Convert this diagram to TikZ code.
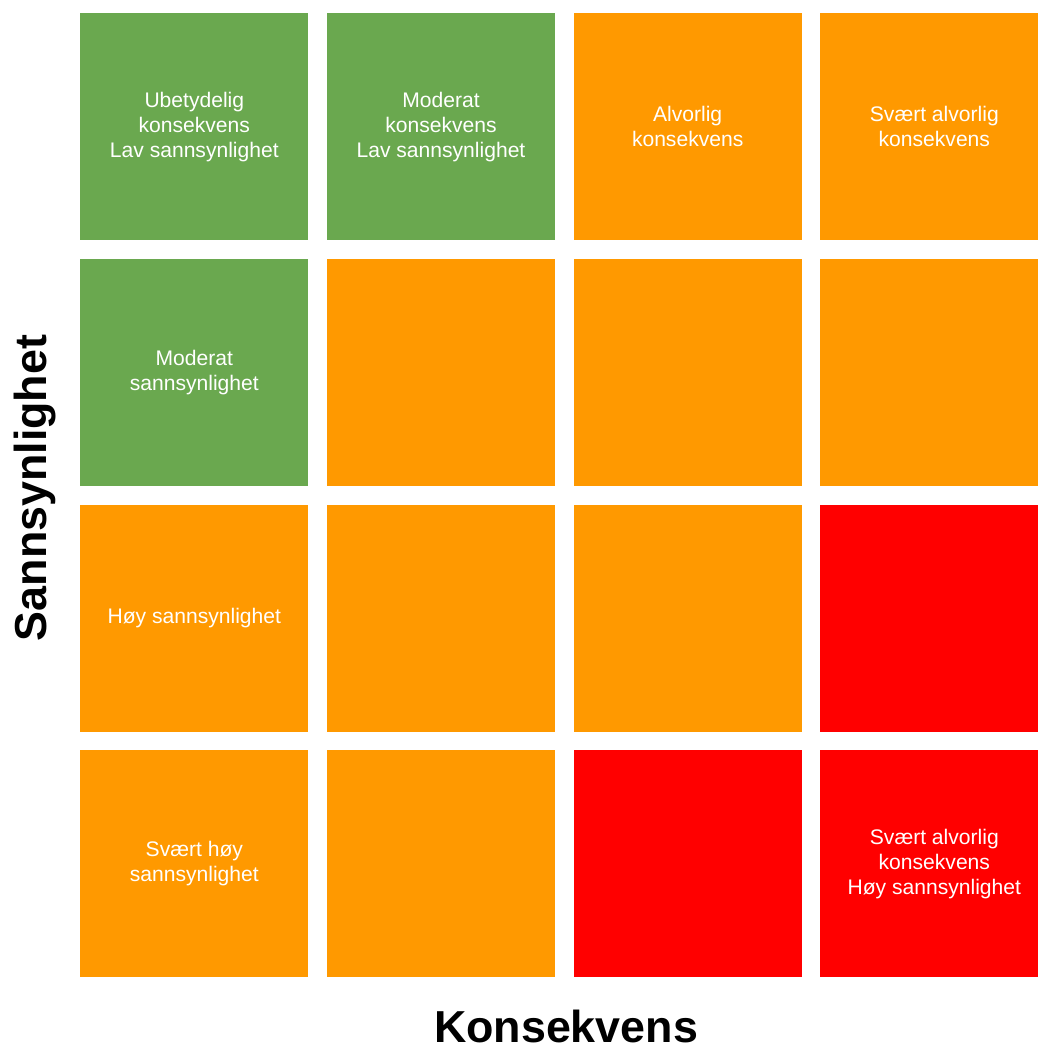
\documentclass[tikz,border=0pt]{standalone}
\usepackage{fontspec}
\setmainfont{Liberation Sans}

\definecolor{lowrisk}{HTML}{6AA84F}
\definecolor{midrisk}{HTML}{FF9900}
\definecolor{highrisk}{HTML}{FF0000}

\tikzset{
  cell/.style={anchor=north west, minimum width=4.56cm, minimum height=4.54cm,
    inner sep=0pt, text=white, align=center,
    font=\fontsize{12}{14.2}\selectfont},
  axislabel/.style={inner sep=0pt, font=\fontsize{25.5}{30}\selectfont\bfseries}
}

\begin{document}
\begin{tikzpicture}[x=0.02cm, y=-0.02cm]
  \useasboundingbox (0, 0) rectangle (1038, 1046);
  \clip (0, 0) rectangle (1038, 1046);

  % risk matrix, row = sannsynlighet, column = konsekvens
  \foreach \r/\c/\tone/\txt in {
    1/1/lowrisk/{Ubetydelig\\konsekvens\\Lav sannsynlighet},
    1/2/lowrisk/{Moderat\\konsekvens\\Lav sannsynlighet},
    1/3/midrisk/{Alvorlig\\konsekvens},
    1/4/midrisk/{Svært alvorlig\\konsekvens},
    2/1/lowrisk/{Moderat\\sannsynlighet},
    2/2/midrisk/{}, 2/3/midrisk/{}, 2/4/midrisk/{},
    3/1/midrisk/{Høy sannsynlighet},
    3/2/midrisk/{}, 3/3/midrisk/{}, 3/4/highrisk/{},
    4/1/midrisk/{Svært høy\\sannsynlighet},
    4/2/midrisk/{}, 4/3/highrisk/{},
    4/4/highrisk/{Svært alvorlig\\konsekvens\\Høy sannsynlighet}} {
    \node[cell, fill=\tone] (c\r\c) at ({80 + 246.67*(\c-1)}, {13 + 245.67*(\r-1)}) {\txt};
  }

  \node[axislabel, rotate=90] (ylab) at (35, 488) {Sannsynlighet};
  \node[axislabel] (xlab) at (566, 1026) {Konsekvens};
\end{tikzpicture}
\end{document}
